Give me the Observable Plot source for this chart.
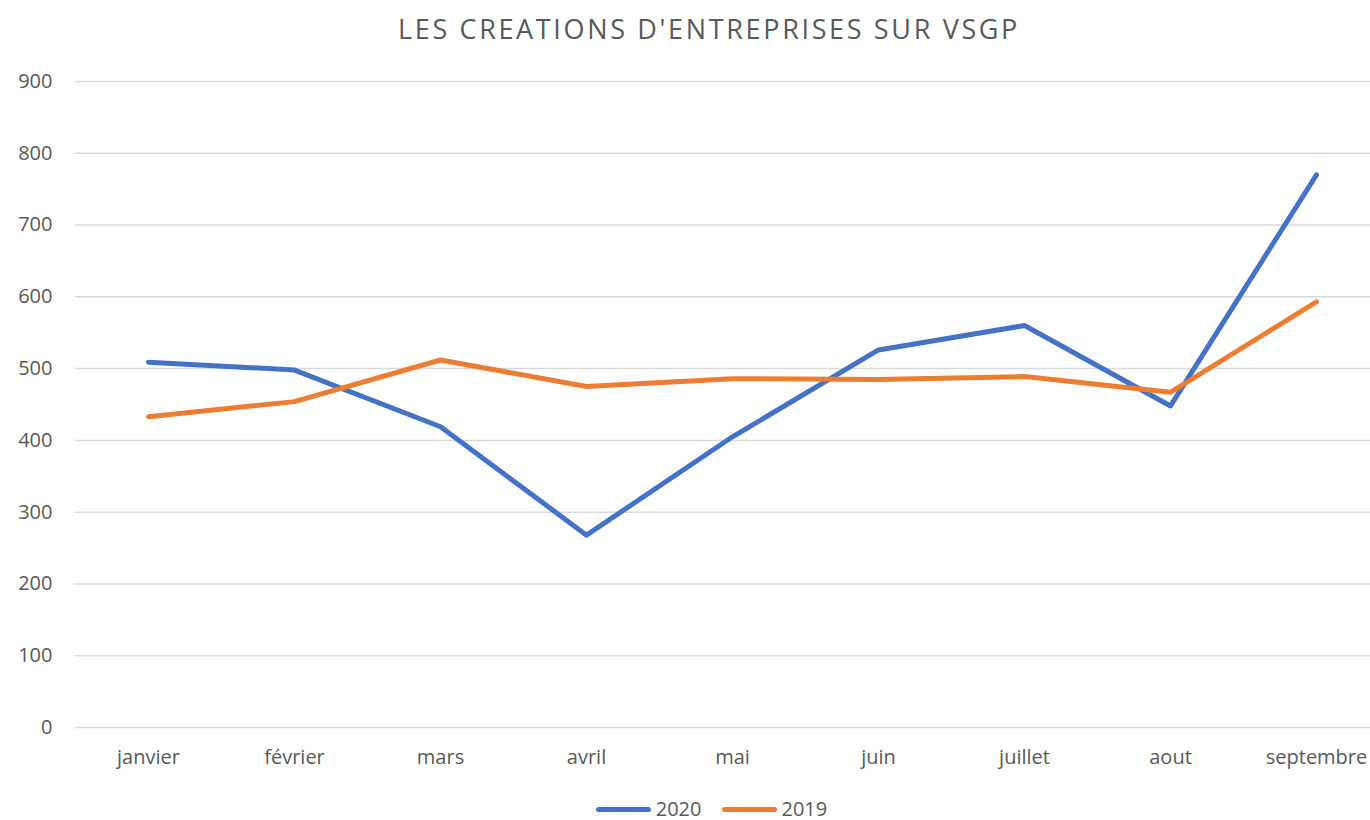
<!DOCTYPE html>
<html>
<head>
<meta charset="utf-8">
<script src="https://cdn.jsdelivr.net/npm/d3@7"></script>
<script src="https://cdn.jsdelivr.net/npm/@observablehq/plot@0.6"></script>
<style>
  html, body { margin: 0; padding: 0; background: #fff; overflow: hidden; }
  body { width: 1370px; font-family: "Open Sans", sans-serif; color: #595959; }
  #title { height: 60px; line-height: 58px; text-align: center; font-size: 27px; letter-spacing: 2.65px; padding-left: 48px; box-sizing: border-box; white-space: nowrap; }
  #legend { height: 43px; padding-top: 21px; display: flex; justify-content: center; align-items: center; padding-left: 53px; box-sizing: border-box; font-size: 20px; line-height: 20px; }
  .item { display: flex; align-items: center; margin: 0 10px; }
  .swatch { width: 55px; height: 5px; border-radius: 3px; margin-right: 5px; }
</style>
</head>
<body>
<div id="title"></div>
<div id="chart"></div>
<div id="legend"></div>
<script>
const titleText = "LES CREATIONS D'ENTREPRISES SUR VSGP";
const months = ["janvier", "février", "mars", "avril", "mai", "juin", "juillet", "aout", "septembre"];
const seriesNames = ["2020", "2019"];
const seriesColors = ["#4472C4", "#ED7D31"];
const values2020 = [509, 498, 419, 268, 405, 526, 560, 448, 770];
const values2019 = [433, 454, 512, 475, 486, 485, 489, 467, 593];
const yTicks = [0, 100, 200, 300, 400, 500, 600, 700, 800, 900];

const rows = [];
months.forEach((m, i) => rows.push({month: m, value: values2020[i], series: "2020"}));
months.forEach((m, i) => rows.push({month: m, value: values2019[i], series: "2019"}));

document.getElementById("title").textContent = titleText;

const chart = Plot.plot({
  width: 1370,
  height: 717,
  marginLeft: 75,
  marginRight: 0,
  marginTop: 21,
  marginBottom: 50,
  style: {fontSize: "20px", fontFamily: "Open Sans, sans-serif", color: "#595959", background: "#fff"},
  x: {type: "point", domain: months, range: [148, 1316], padding: 0, label: null, tickSize: 0, tickPadding: 22},
  y: {domain: [0, 900], ticks: yTicks, label: null, tickSize: 0, tickPadding: 23},
  color: {domain: seriesNames, range: seriesColors},
  marks: [
    Plot.ruleY(yTicks, {stroke: "#d9d9d9", strokeWidth: 1.5}),
    Plot.line(rows, {x: "month", y: "value", z: "series", stroke: "series", strokeWidth: 5, strokeLinecap: "round", strokeLinejoin: "round"})
  ]
});
document.getElementById("chart").appendChild(chart);

const legend = document.getElementById("legend");
seriesNames.forEach((name, i) => {
  const item = document.createElement("div");
  item.className = "item";
  const sw = document.createElement("div");
  sw.className = "swatch";
  sw.style.background = seriesColors[i];
  const label = document.createElement("span");
  label.textContent = name;
  item.appendChild(sw);
  item.appendChild(label);
  legend.appendChild(item);
});
</script>
</body>
</html>
